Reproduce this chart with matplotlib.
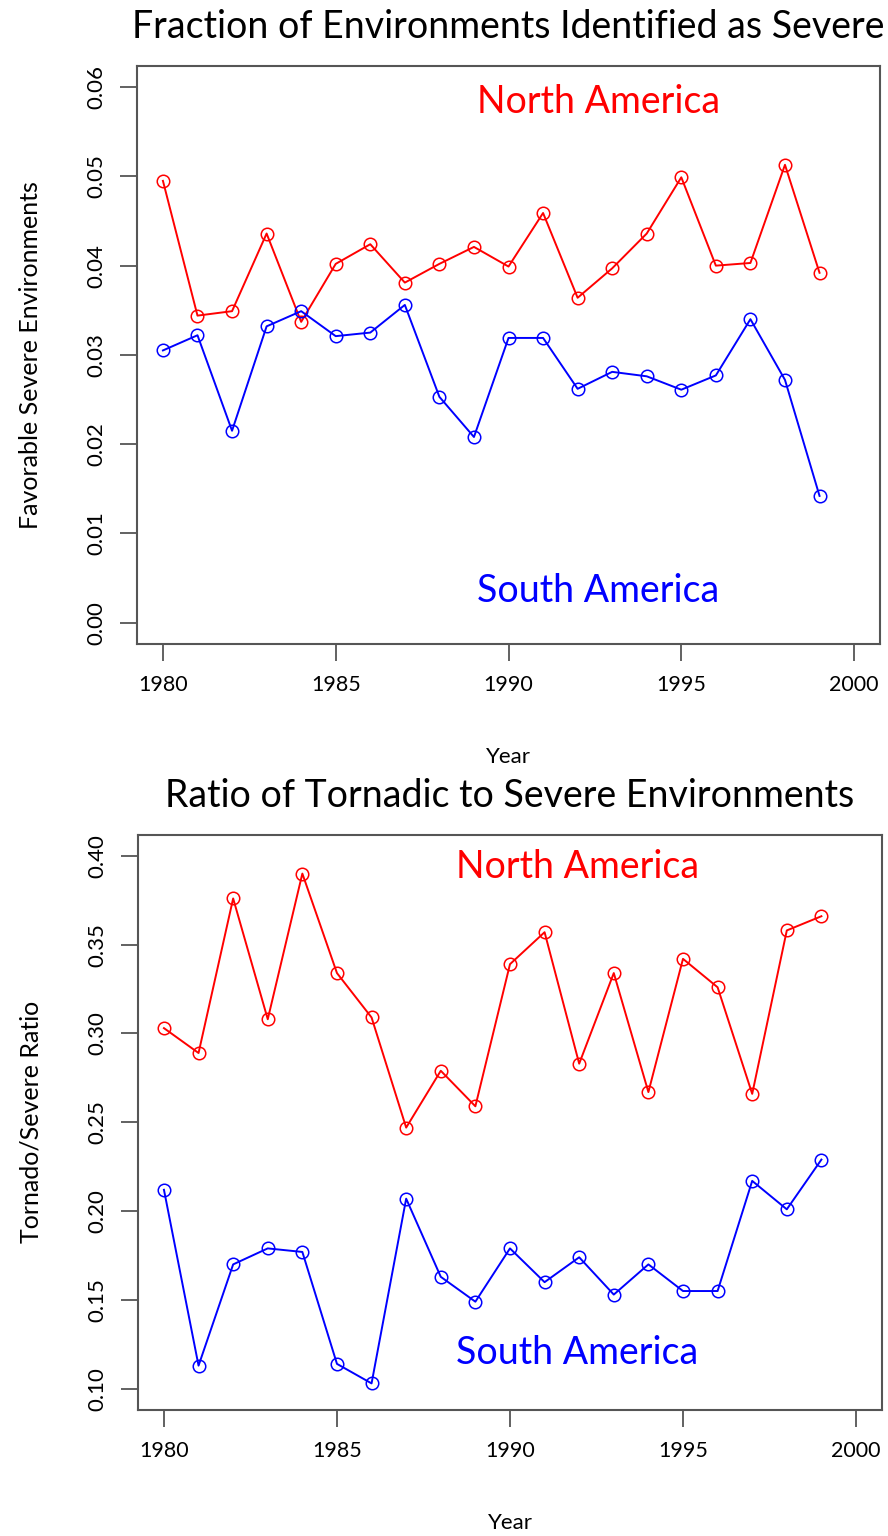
import numpy as np
import matplotlib
matplotlib.use("Agg")
import matplotlib.pyplot as plt

plt.rcParams["font.family"] = ["Lato", "DejaVu Sans"]

# --------------------------------------------------
# Data
# --------------------------------------------------
years = list(range(1980, 2000))

severe_na = [0.0495, 0.0344, 0.0349, 0.0436, 0.0337, 0.0402, 0.0424, 0.0381, 0.0402, 0.0421,
             0.0399, 0.0459, 0.0364, 0.0397, 0.0436, 0.0499, 0.0400, 0.0403, 0.0513, 0.0392]
severe_sa = [0.0305, 0.0322, 0.0215, 0.0332, 0.0349, 0.0321, 0.0325, 0.0356, 0.0253, 0.0208,
             0.0319, 0.0319, 0.0262, 0.0281, 0.0276, 0.0261, 0.0277, 0.0340, 0.0272, 0.0142]

ratio_na = [0.303, 0.289, 0.376, 0.308, 0.390, 0.334, 0.309, 0.247, 0.279, 0.259,
            0.339, 0.357, 0.283, 0.334, 0.267, 0.342, 0.326, 0.266, 0.358, 0.366]
ratio_sa = [0.212, 0.113, 0.170, 0.179, 0.177, 0.114, 0.103, 0.207, 0.163, 0.149,
            0.179, 0.160, 0.174, 0.153, 0.170, 0.155, 0.155, 0.217, 0.201, 0.229]

x_ticks = [1980, 1985, 1990, 1995, 2000]
top_yticks = [0.00, 0.01, 0.02, 0.03, 0.04, 0.05, 0.06]
bot_yticks = [0.10, 0.15, 0.20, 0.25, 0.30, 0.35, 0.40]

box_col = "#555555"


def style_axes(ax, yticks, ylim, fmt):
    ax.set_xlim(1979.25, 2000.75)
    ax.set_ylim(*ylim)
    ax.set_xticks(x_ticks)
    ax.set_xticklabels([str(t) for t in x_ticks], fontsize=15.5)
    ax.set_yticks(yticks)
    ax.set_yticklabels([fmt % t for t in yticks], fontsize=16, rotation=90, va="center")
    ax.tick_params(direction="out", length=12, width=1.3, color=box_col, pad=10)
    for s in ax.spines.values():
        s.set_color(box_col)
        s.set_linewidth(1.5)


fig = plt.figure(figsize=(8.88, 15.36), dpi=100)

# --------------------------------------------------
# Top panel: fraction severe
# --------------------------------------------------
ax1 = fig.add_axes([0.1543, 0.5807, 0.8367, 0.3765])
ax1.plot(years, severe_na, "-o", color="red", lw=1.4, ms=9, mfc="none", mew=1.1)
ax1.plot(years, severe_sa, "-o", color="blue", lw=1.4, ms=9, mfc="none", mew=1.1)
style_axes(ax1, top_yticks, (-0.0024, 0.0624), "%.2f")
ax1.set_title("Fraction of Environments Identified as Severe", fontsize=27, pad=20)
ax1.set_xlabel("Year", fontsize=16, labelpad=38)
ax1.set_ylabel("Favorable Severe Environments", fontsize=18, labelpad=32)
ax1.text(1992.6, 0.0583, "North America", color="red", fontsize=27, ha="center", va="center")
ax1.text(1992.6, 0.0035, "South America", color="blue", fontsize=27, ha="center", va="center")

# --------------------------------------------------
# Bottom panel: tornadic / severe ratio
# --------------------------------------------------
ax2 = fig.add_axes([0.1554, 0.0820, 0.8378, 0.3747])
ax2.plot(years, ratio_na, "-o", color="red", lw=1.4, ms=9, mfc="none", mew=1.1)
ax2.plot(years, ratio_sa, "-o", color="blue", lw=1.4, ms=9, mfc="none", mew=1.1)
style_axes(ax2, bot_yticks, (0.088, 0.412), "%.2f")
ax2.set_title("Ratio of Tornadic to Severe Environments", fontsize=27, pad=20)
ax2.set_xlabel("Year", fontsize=16, labelpad=38)
ax2.set_ylabel("Tornado/Severe Ratio", fontsize=18, labelpad=32)
ax2.text(1991.95, 0.3938, "North America", color="red", fontsize=27, ha="center", va="center")
ax2.text(1991.95, 0.1202, "South America", color="blue", fontsize=27, ha="center", va="center")

fig.savefig("out.png", dpi=100)
